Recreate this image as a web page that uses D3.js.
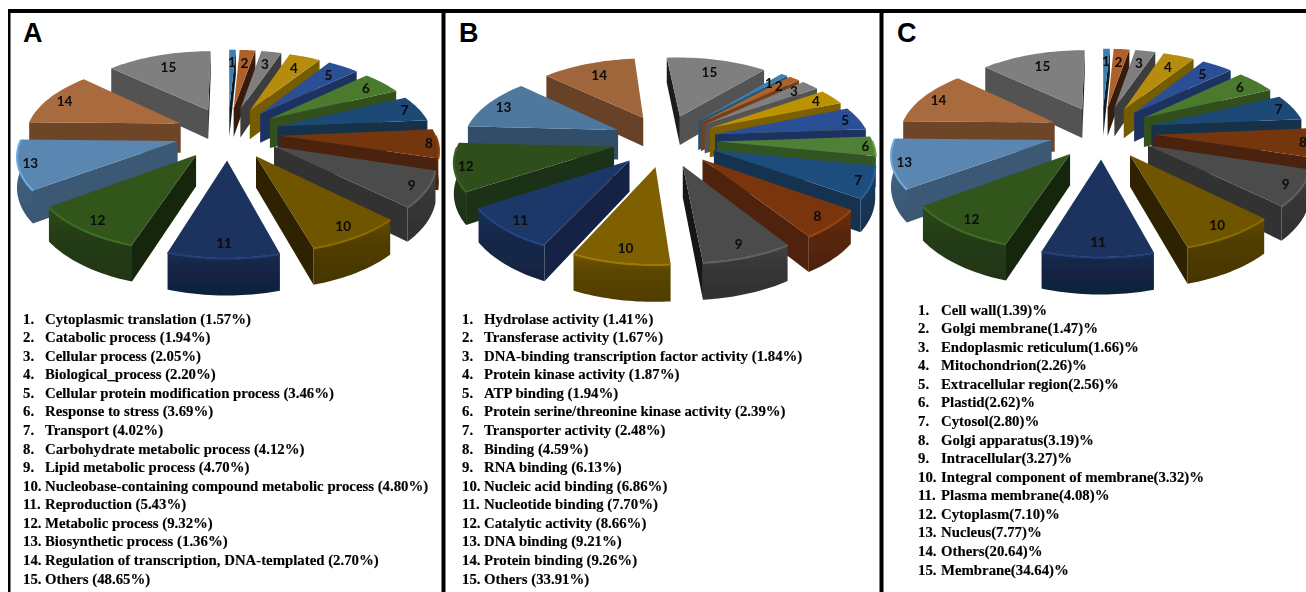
<!DOCTYPE html>
<html>
<head>
<meta charset="utf-8">
<script src="https://cdn.jsdelivr.net/npm/d3@7"></script>
<style>
html, body { margin: 0; padding: 0; background: #fff; overflow: hidden; }
.term { font-family: "Liberation Serif", serif; font-weight: bold; font-size: 14.8px; fill: #000; stroke: #000; stroke-width: 0.15px; }
.num { font-family: Lato, sans-serif; font-weight: 700; font-size: 13.5px; fill: #0a0a0a; text-anchor: middle; }
.letter { font-family: "Liberation Sans", sans-serif; font-weight: bold; font-size: 27px; fill: #000; }
</style>
</head>
<body>
<div id="chart"></div>
<script>
var w = 1306;
var h = 592;

// Labels and percentages as printed under each pie
var termsA = ["Cytoplasmic translation", "Catabolic process", "Cellular process", "Biological_process",
    "Cellular protein modification process", "Response to stress", "Transport", "Carbohydrate metabolic process",
    "Lipid metabolic process", "Nucleobase-containing compound metabolic process", "Reproduction", "Metabolic process",
    "Biosynthetic process", "Regulation of transcription, DNA-templated", "Others"];
var percentA = ["1.57", "1.94", "2.05", "2.20", "3.46", "3.69", "4.02", "4.12", "4.70", "4.80", "5.43", "9.32", "1.36", "2.70", "48.65"];

var termsB = ["Hydrolase activity", "Transferase activity", "DNA-binding transcription factor activity", "Protein kinase activity",
    "ATP binding", "Protein serine/threonine kinase activity", "Transporter activity", "Binding", "RNA binding",
    "Nucleic acid binding", "Nucleotide binding", "Catalytic activity", "DNA binding", "Protein binding", "Others"];
var percentB = ["1.41", "1.67", "1.84", "1.87", "1.94", "2.39", "2.48", "4.59", "6.13", "6.86", "7.70", "8.66", "9.21", "9.26", "33.91"];

var termsC = ["Cell wall", "Golgi membrane", "Endoplasmic reticulum", "Mitochondrion", "Extracellular region", "Plastid",
    "Cytosol", "Golgi apparatus", "Intracellular", "Integral component of membrane", "Plasma membrane", "Cytoplasm",
    "Nucleus", "Others", "Membrane"];
var percentC = ["1.39", "1.47", "1.66", "2.26", "2.56", "2.62", "2.80", "3.19", "3.27", "3.32", "4.08", "7.10", "7.77", "20.64", "34.64"];

// Slice sizes as drawn in the picture, in degrees (they do not follow the printed percentages)
var drawnA = [3, 7, 9, 14, 14, 18, 20, 22, 27, 30, 34, 36, 37, 42, 47];
var drawnB = [3, 5, 8, 12, 18, 15, 24, 22, 28, 30, 32, 36, 40, 42, 45];
var drawnC = [3, 7, 9, 14, 14, 18, 20, 22, 27, 30, 34, 36, 37, 42, 47];

var colorsA = ["#3d7fae", "#b0602c", "#7f7f7f", "#b58c08", "#2c4f95", "#4b7a2d", "#1b4a74", "#75340c", "#4c4c4c", "#6f5500", "#1a335f", "#33551f", "#5a87b2", "#a96a3d", "#7f7f7f"];
var colorsB = ["#3d7fae", "#b0602c", "#7f7f7f", "#bd9200", "#2c4f95", "#4f8035", "#1f4e7c", "#7a360c", "#4c4c4c", "#7f6100", "#1c3768", "#2f4f1e", "#4f789f", "#a0663a", "#7f7f7f"];

// Panels: where the pie and the text go
var panels = [
    { letter: "A", letterX: 23, terms: termsA, percent: percentA, drawn: drawnA, colors: colorsA, start: 0, cx: 228, cy: 133,
        listX: 23, textX: 45, listY: 323.5, suffix: function (p) { return " (" + p + "%)"; } },
    { letter: "B", letterX: 459, terms: termsB, percent: percentB, drawn: drawnB, colors: colorsB, start: 40, cx: 665, cy: 140,
        listX: 462, textX: 484, listY: 323.5, suffix: function (p) { return " (" + p + "%)"; } },
    { letter: "C", letterX: 897, terms: termsC, percent: percentC, drawn: drawnC, colors: colorsA, start: 0, cx: 1102, cy: 132,
        listX: 918, textX: 941, listY: 314.5, suffix: function (p) { return "(" + p + ")%"; } }
];

var radiusX = 155;
var radiusY = 148;
var explode = 52;
var depth = 30;
var tilt = 0.5;
var camera = 1000;

var svg = d3.select("#chart").append("svg")
    .attr("width", w)
    .attr("height", h)
    .style("display", "block");

var defs = svg.append("defs");

defs.append("filter").attr("id", "soft")
    .append("feGaussianBlur").attr("stdDeviation", 0.45);
defs.append("filter").attr("id", "softText")
    .append("feGaussianBlur").attr("stdDeviation", 0.3);

var gradientCount = 0;
function wallGradient(color) {
    var id = "wall" + (gradientCount++);
    var base = d3.color(color);
    var g = defs.append("linearGradient").attr("id", id)
        .attr("x1", 0).attr("y1", 0).attr("x2", 0).attr("y2", 1);
    g.append("stop").attr("offset", "0%").attr("stop-color", base.darker(0.35));
    g.append("stop").attr("offset", "35%").attr("stop-color", base.darker(0.9));
    g.append("stop").attr("offset", "100%").attr("stop-color", base.darker(1.3));
    return "url(#" + id + ")";
}

// Ground plane to screen, with some perspective
function project(pie, x, y, z) {
    var s = camera / (camera + y);
    return [pie.cx + x * s, pie.cy - y * tilt * s + z * s];
}

// Walls get very dark when the edge runs almost straight at the viewer
function wallShade(angle) {
    var deg = (angle * 180 / Math.PI) % 180;
    var fromVertical = Math.min(deg, 180 - deg);
    return 1.2 + 3.5 * Math.max(0, 1 - fromVertical / 25);
}

var line = d3.line();

panels.forEach(function (panel) {
    var slices = d3.pie().sort(null).value(function (d) { return d; })
        .startAngle(panel.start * Math.PI / 180)
        .endAngle((panel.start + 360) * Math.PI / 180)(panel.drawn);

    var g = svg.append("g").attr("filter", "url(#soft)");

    slices.map(function (s) {
        s.mid = (s.startAngle + s.endAngle) / 2;
        s.ax = explode * Math.sin(s.mid);
        s.ay = explode * Math.cos(s.mid);
        return s;
    }).sort(function (a, b) {
        return b.ay - a.ay;
    }).forEach(function (s) {
        var color = panel.colors[s.index];
        var arcAngles = d3.range(0, 25).map(function (i) {
            return s.startAngle + (s.endAngle - s.startAngle) * i / 24;
        });
        function rim(a, z) {
            return project(panel, s.ax + radiusX * Math.sin(a), s.ay + radiusY * Math.cos(a), z);
        }
        var apexTop = project(panel, s.ax, s.ay, 0);
        var apexLow = project(panel, s.ax, s.ay, depth);

        // Radial walls, only the ones that face the viewer
        [[s.startAngle, s.endAngle], [s.endAngle, s.startAngle]].forEach(function (pair) {
            var p = rim(pair[0], 0);
            var other = rim(pair[1], 0);
            var cross = (p[0] - apexTop[0]) * (other[1] - apexTop[1]) - (p[1] - apexTop[1]) * (other[0] - apexTop[0]);
            var above = p[0] >= apexTop[0] ? cross < 0 : cross > 0;
            if (Math.abs(p[0] - apexTop[0]) < 0.01) above = false;
            if (above) {
                g.append("path")
                    .attr("d", line([apexTop, p, rim(pair[0], depth), apexLow]) + "Z")
                    .attr("fill", d3.color(color).darker(wallShade(pair[0])));
            }
        });

        // Outer wall on the near half of the rim
        var near = arcAngles.filter(function (a) { return Math.cos(a) < 0.02; });
        if (near.length > 1) {
            var topEdge = near.map(function (a) { return rim(a, 0); });
            var lowEdge = near.map(function (a) { return rim(a, depth); }).reverse();
            g.append("path")
                .attr("d", line(topEdge.concat(lowEdge)) + "Z")
                .attr("fill", wallGradient(color));
        }

        // Top face
        g.append("path")
            .attr("d", line([apexTop].concat(arcAngles.map(function (a) { return rim(a, 0); }))) + "Z")
            .attr("fill", color);

        // Light bevel along the near rim
        if (near.length > 1) {
            g.append("path")
                .attr("d", line(near.map(function (a) { return rim(a, 0.5); })))
                .attr("fill", "none")
                .attr("stroke", d3.color(color).brighter(0.65))
                .attr("stroke-width", 2);
        }

        // Numbers sit closer to the rim on the sides than at the back
        var c = Math.cos(s.mid);
        var f = c > 0 ? 0.95 - 0.19 * c : 0.95 + 0.08 * c;
        s.labelAt = project(panel, s.ax + radiusX * f * Math.sin(s.mid), s.ay + radiusY * f * c, 0);
    });

    // Slice numbers above the pie
    var numbers = svg.append("g").attr("filter", "url(#softText)");
    slices.forEach(function (s) {
        numbers.append("text").attr("class", "num")
            .attr("x", s.labelAt[0])
            .attr("y", s.labelAt[1] + 5)
            .text(s.index + 1);
    });

    svg.append("text").attr("class", "letter")
        .attr("x", panel.letterX)
        .attr("y", 42)
        .text(panel.letter);

    // Numbered list under the pie
    var list = svg.append("g").attr("filter", "url(#softText)");
    var rowY = d3.scaleLinear().domain([0, 14]).range([panel.listY, panel.listY + 260]);
    panel.terms.forEach(function (term, i) {
        list.append("text").attr("class", "term")
            .attr("x", panel.listX)
            .attr("y", rowY(i))
            .text((i + 1) + ".");
        list.append("text").attr("class", "term")
            .attr("x", panel.textX)
            .attr("y", rowY(i))
            .text(term + panel.suffix(panel.percent[i]));
    });
});

// Black frame around the panels
var frame = svg.append("g").attr("fill", "#000");
frame.append("rect").attr("x", 8).attr("y", 9).attr("width", w - 8).attr("height", 4);
frame.append("rect").attr("x", 8).attr("y", 9).attr("width", 2.5).attr("height", h - 9);
frame.append("rect").attr("x", 441.5).attr("y", 9).attr("width", 4).attr("height", h - 9);
frame.append("rect").attr("x", 879.5).attr("y", 9).attr("width", 4).attr("height", h - 9);
</script>
</body>
</html>
